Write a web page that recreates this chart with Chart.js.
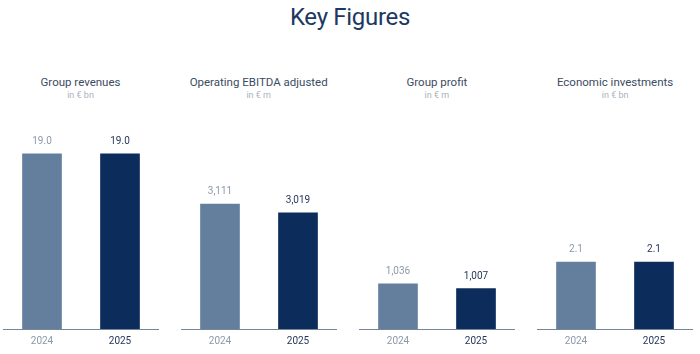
<!DOCTYPE html>
<html>
<head>
<meta charset="utf-8">
<script src="https://cdn.jsdelivr.net/npm/chart.js@4.4.1/dist/chart.umd.min.js"></script>
<style>
    html, body { margin: 0; padding: 0; background: #ffffff; }
    body { width: 700px; height: 354px; position: relative; overflow: hidden; font-family: Roboto, "DejaVu Sans", sans-serif; }
    h1 { position: absolute; top: 3px; left: 0; width: 700px; margin: 0; text-align: center; font-weight: 400; font-size: 24px; color: #1d3862; letter-spacing: -0.3px; }
    .painel { position: absolute; top: 0; width: 156px; height: 354px; }
    .painel .titulo { position: absolute; top: 75px; left: -20px; width: 196px; text-align: center; font-size: 11.5px; color: #3b4b62; white-space: nowrap; }
    .painel .unidade { position: absolute; top: 90px; left: 0; width: 156px; text-align: center; font-size: 9px; color: #a9b2bd; }
    .painel canvas { position: absolute; top: 110px; left: 0; }
</style>
</head>
<body>
<h1>Key Figures</h1>
<div id="paineis"></div>

<script>
// Dados
const anos = ['2024', '2025'];
const titulos = ['Group revenues', 'Operating EBITDA adjusted', 'Group profit', 'Economic investments'];
const unidades = ['in € bn', 'in € m', 'in € m', 'in € bn'];
const receitas = [19.0, 19.0];
const ebitda = [3111, 3019];
const lucro = [1036, 1007];
const investimentos = [2.1, 2.1];
const casasDecimais = [1, 0, 0, 1];

const series = [receitas, ebitda, lucro, investimentos];

// Escala de cada painel (o desenho original não começa sempre do zero)
const faixasY = [[0, 21.7], [1790, 3904], [758, 1992], [0, 6.27]];
const posicoesX = [2.5, 180.7, 358.9, 537.1];

const corAnterior = '#647f9d';
const corAtual = '#0c2c5c';
const textoAnterior = '#8c99a9';
const textoAtual = '#26375a';

// Plugin simples para escrever o valor acima de cada barra
const rotulosValor = {
    id: 'rotulosValor',
    afterDatasetsDraw(chart, args, opts) {
        const ctx = chart.ctx;
        const meta = chart.getDatasetMeta(0);
        const dados = chart.data.datasets[0].data;
        ctx.save();
        ctx.font = '10px Roboto, "DejaVu Sans", sans-serif';
        ctx.textAlign = 'center';
        ctx.textBaseline = 'middle';
        meta.data.forEach((barra, i) => {
            ctx.fillStyle = i === 0 ? textoAnterior : textoAtual;
            const txt = dados[i].toLocaleString('en-US', {
                minimumFractionDigits: opts.decimais,
                maximumFractionDigits: opts.decimais
            });
            ctx.fillText(txt, barra.x, barra.y - 12.5);
        });
        ctx.restore();
    }
};

const container = document.getElementById('paineis');

series.forEach((valores, i) => {
    const div = document.createElement('div');
    div.className = 'painel';
    div.style.left = posicoesX[i] + 'px';
    div.innerHTML = `
        <div class="titulo">${titulos[i]}</div>
        <div class="unidade">${unidades[i]}</div>
        <canvas width="156" height="244"></canvas>
    `;
    container.appendChild(div);

    const canvas = div.querySelector('canvas');
    new Chart(canvas.getContext('2d'), {
        type: 'bar',
        data: {
            labels: anos,
            datasets: [{
                data: valores,
                backgroundColor: [corAnterior, corAtual],
                borderWidth: 0,
                barThickness: 39
            }]
        },
        options: {
            responsive: false,
            animation: false,
            layout: { padding: { top: 19, bottom: 0, left: 0, right: 0 } },
            plugins: {
                legend: { display: false },
                tooltip: { enabled: false },
                rotulosValor: { decimais: casasDecimais[i] }
            },
            scales: {
                x: {
                    z: 1,
                    grid: { display: false, drawTicks: false },
                    border: { display: true, color: '#75869a', width: 1 },
                    ticks: {
                        padding: 6.5,
                        font: { size: 10, family: 'Roboto, "DejaVu Sans", sans-serif' },
                        color: (c) => c.index === 0 ? textoAnterior : textoAtual
                    }
                },
                y: {
                    display: false,
                    min: faixasY[i][0],
                    max: faixasY[i][1]
                }
            }
        },
        plugins: [rotulosValor]
    });
});
</script>
</body>
</html>
